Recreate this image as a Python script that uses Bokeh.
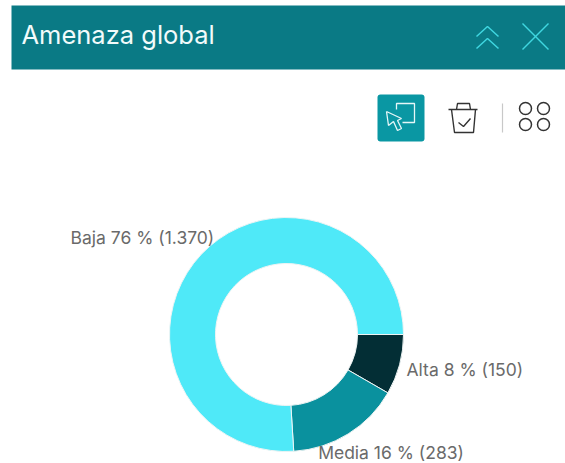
from math import pi, cos, sin
from bokeh.plotting import figure
from bokeh.models import Range1d
from bokeh.core.properties import value
from bokeh.embed import file_html
from bokeh.resources import INLINE

categories = ["Alta", "Media", "Baja"]
counts = [150, 283, 1370]
percents = [8, 16, 76]
count_labels = ["150", "283", "1.370"]
colors = ["#032e35", "#0a919e", "#4fe9f8"]
title_text = "Amenaza global"

# layout (picture pixels)
CX, CY, R_OUT, R_IN = 286, 334, 117, 71
label_offsets = [(7, 5), (-30, 19), (13, -17)]
label_aligns = ["left", "left", "right"]

p = figure(width=565, height=463, output_backend="svg", toolbar_location=None,
           x_range=Range1d(0, 565), y_range=Range1d(463, 0),
           min_border=0, outline_line_color=None, background_fill_color="white")
p.axis.visible = False
p.grid.visible = False

# header
p.quad(left=11, right=565, top=5, bottom=69, fill_color="#0a7a85", line_color=None)
p.text(x=[21], y=[34], text=[title_text], text_color="#f2fbfb",
       text_font=value("Inter"), text_font_size="25.5px", text_font_style="normal",
       text_baseline="middle", text_align="left")
TEAL = "#3fd6e0"
p.line([476, 487, 498], [36, 26, 36], line_color=TEAL, line_width=1.5)
p.line([476, 487, 498], [48, 38, 48], line_color=TEAL, line_width=1.5)
p.line([522, 548], [23, 49], line_color=TEAL, line_width=1.5)
p.line([522, 548], [49, 23], line_color=TEAL, line_width=1.5)

# toolbar button
p.quad(left=377, right=424, top=94, bottom=141, fill_color="#0a97a3", line_color=None, border_radius=3)
p.line([396, 396, 414, 414, 402], [109, 103, 103, 122, 122], line_color="#e6f7f8", line_width=1.3)
p.line([386, 388, 393, 397, 401, 397, 401, 386], [111, 125, 121, 130, 128, 120, 118, 111],
       line_color="#e6f7f8", line_width=1.3)

# trash
DARK = "#333333"
p.line([448, 477], [109, 109], line_color=DARK, line_width=1.4)
p.line([456, 457, 469, 470], [109, 103, 103, 109], line_color=DARK, line_width=1.4)
p.line([451, 454, 473, 475], [109, 132, 132, 109], line_color=DARK, line_width=1.4)
p.line([458, 463, 470], [122, 126, 118], line_color=DARK, line_width=1.4)
p.line([502, 502], [103, 132], line_color="#c8c8c8", line_width=1.2)

# grid icon
p.scatter([525, 543, 525, 543], [108, 108, 124, 124], size=12, marker="circle",
          fill_color=None, line_color=DARK, line_width=1.5)

# donut: clockwise on screen from 3 o'clock
total = sum(counts)
starts, ends, a = [], [], 0.0
for c in counts:
    starts.append(a)
    a += 2 * pi * c / total
    ends.append(a)

p.annular_wedge(x=CX, y=CY, inner_radius=R_IN, outer_radius=R_OUT,
                start_angle=[-s for s in starts], end_angle=[-e for e in ends], direction="clock",
                fill_color=colors, line_color="#eef4f4", line_width=1)

lx, ly, lt = [], [], []
for s, e, (dx, dy), n, pc, cl in zip(starts, ends, label_offsets, categories, percents, count_labels):
    m = (s + e) / 2
    lx.append(CX + R_OUT * cos(m) + dx)
    ly.append(CY + R_OUT * sin(m) + dy)
    lt.append(f"{n} {pc} % ({cl})")
p.text(x=lx, y=ly, text=lt, text_color="#6a6a6a", text_font=value("Inter"),
       text_font_size="17.5px", text_baseline="middle", text_align=label_aligns)

open("out.html", "w").write(file_html(p, INLINE))
